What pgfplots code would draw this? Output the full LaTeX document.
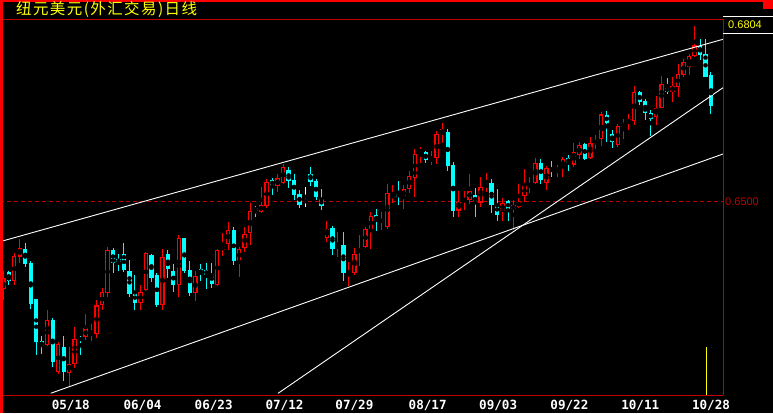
\documentclass[border=0pt]{standalone}
\usepackage{fontspec}
\usepackage{pgfplots}
\usepackage{pgfplotstable}
\pgfplotsset{compat=1.18}
\usetikzlibrary{calc,backgrounds}
\setmainfont{Liberation Sans}
\newfontfamily\cjk{Noto Sans CJK SC}
\newfontfamily\dmono{DejaVu Sans Mono}
\definecolor{upred}{RGB}{255,0,0}
\definecolor{dncyan}{RGB}{0,255,255}
\definecolor{frame}{RGB}{190,0,0}
\definecolor{yel}{RGB}{255,255,0}

\pgfplotstableread{
j O H L C
1 0.6347 0.6378 0.6328 0.6366
3 0.6362 0.6410 0.6354 0.6405
4 0.6404 0.6435 0.6392 0.6418
9 0.6250 0.6311 0.6248 0.6294
11 0.6204 0.6256 0.6200 0.6252
13 0.6202 0.6246 0.6178 0.6217
14 0.6217 0.6281 0.6211 0.6260
16 0.6264 0.6304 0.6258 0.6279
17 0.6268 0.6287 0.6258 0.6271
18 0.6270 0.6328 0.6263 0.6319
19 0.6319 0.6349 0.6311 0.6342
20 0.6340 0.6420 0.6334 0.6415
26 0.6323 0.6354 0.6311 0.6343
27 0.6345 0.6412 0.6344 0.6410
30 0.6320 0.6417 0.6311 0.6403
33 0.6354 0.6441 0.6334 0.6436
36 0.6340 0.6379 0.6327 0.6370
40 0.6354 0.6417 0.6352 0.6415
41 0.6416 0.6445 0.6405 0.6422
42 0.6425 0.6464 0.6416 0.6450
44 0.6395 0.6420 0.6369 0.6418
45 0.6418 0.6456 0.6412 0.6444
46 0.6445 0.6497 0.6424 0.6483
48 0.6482 0.6525 0.6480 0.6494
49 0.6492 0.6539 0.6488 0.6533
51 0.6527 0.6548 0.6516 0.6540
52 0.6532 0.6564 0.6530 0.6559
60 0.6436 0.6466 0.6430 0.6452
62 0.6419 0.6447 0.6404 0.6424
64 0.6375 0.6394 0.6352 0.6378
65 0.6375 0.6418 0.6372 0.6408
66 0.6412 0.6441 0.6388 0.6418
67 0.6421 0.6456 0.6419 0.6452
68 0.6450 0.6481 0.6418 0.6475
70 0.6465 0.6481 0.6451 0.6467
71 0.6456 0.6530 0.6451 0.6514
72 0.6505 0.6528 0.6497 0.6513
74 0.6507 0.6528 0.6487 0.6521
75 0.6521 0.6553 0.6515 0.6544
76 0.6541 0.6591 0.6508 0.6583
77 0.6585 0.6595 0.6567 0.6589
79 0.6571 0.6587 0.6563 0.6575
80 0.6575 0.6623 0.6564 0.6618
81 0.6618 0.6636 0.6602 0.6625
84 0.6484 0.6518 0.6472 0.6499
85 0.6500 0.6518 0.6485 0.6505
86 0.6503 0.6548 0.6495 0.6518
88 0.6498 0.6542 0.6490 0.6525
89 0.6525 0.6550 0.6517 0.6530
92 0.6483 0.6505 0.6466 0.6497
94 0.6486 0.6503 0.6450 0.6493
95 0.6491 0.6530 0.6488 0.6499
96 0.6509 0.6557 0.6499 0.6528
97 0.6524 0.6543 0.6514 0.6530
98 0.6531 0.6575 0.6530 0.6566
100 0.6532 0.6562 0.6520 0.6558
102 0.6553 0.6563 0.6543 0.6557
103 0.6559 0.6578 0.6543 0.6573
105 0.6564 0.6601 0.6560 0.6585
106 0.6581 0.6603 0.6573 0.6598
108 0.6575 0.6611 0.6573 0.6601
109 0.6599 0.6615 0.6591 0.6607
110 0.6608 0.6655 0.6597 0.6651
113 0.6598 0.6634 0.6595 0.6631
114 0.6630 0.6643 0.6608 0.6636
115 0.6636 0.6652 0.6624 0.6643
116 0.6639 0.6701 0.6633 0.6690
120 0.6646 0.6683 0.6633 0.6663
121 0.6663 0.6718 0.6662 0.6704
123 0.6691 0.6716 0.6672 0.6701
124 0.6699 0.6738 0.6682 0.6721
125 0.6719 0.6747 0.6717 0.6743
126 0.6734 0.6756 0.6720 0.6753
127 0.6752 0.6804 0.6751 0.6771
}\redt

\pgfplotstableread{
j O H L C
2 0.6377 0.6378 0.6354 0.6362
5 0.6417 0.6428 0.6386 0.6391
6 0.6393 0.6396 0.6312 0.6321
7 0.6330 0.6331 0.6233 0.6256
8 0.6257 0.6266 0.6234 0.6248
10 0.6294 0.6298 0.6212 0.6221
12 0.6247 0.6266 0.6188 0.6204
15 0.6261 0.6266 0.6233 0.6260
21 0.6415 0.6418 0.6376 0.6393
22 0.6399 0.6408 0.6378 0.6394
23 0.6408 0.6428 0.6378 0.6381
24 0.6379 0.6398 0.6334 0.6339
25 0.6341 0.6372 0.6311 0.6324
28 0.6407 0.6409 0.6360 0.6367
29 0.6372 0.6376 0.6317 0.6320
31 0.6408 0.6415 0.6367 0.6382
32 0.6378 0.6391 0.6343 0.6354
34 0.6436 0.6437 0.6375 0.6379
35 0.6381 0.6396 0.6335 0.6341
37 0.6382 0.6391 0.6361 0.6374
38 0.6381 0.6393 0.6348 0.6372
39 0.6374 0.6393 0.6349 0.6357
43 0.6450 0.6456 0.6389 0.6396
47 0.6489 0.6492 0.6473 0.6484
50 0.6537 0.6541 0.6511 0.6527
53 0.6554 0.6559 0.6524 0.6536
54 0.6537 0.6548 0.6502 0.6511
55 0.6512 0.6520 0.6488 0.6494
57 0.6547 0.6559 0.6527 0.6534
58 0.6535 0.6539 0.6502 0.6508
59 0.6504 0.6521 0.6485 0.6492
61 0.6454 0.6457 0.6407 0.6417
63 0.6424 0.6447 0.6361 0.6375
69 0.6477 0.6487 0.6449 0.6465
73 0.6513 0.6536 0.6494 0.6508
78 0.6586 0.6588 0.6567 0.6572
82 0.6621 0.6626 0.6553 0.6561
83 0.6563 0.6569 0.6473 0.6484
87 0.6511 0.6523 0.6473 0.6497
90 0.6532 0.6538 0.6479 0.6494
91 0.6495 0.6521 0.6466 0.6477
93 0.6501 0.6503 0.6466 0.6486
99 0.6567 0.6573 0.6530 0.6537
101 0.6557 0.6570 0.6542 0.6552
104 0.6575 0.6581 0.6553 0.6567
107 0.6600 0.6601 0.6572 0.6574
111 0.6650 0.6657 0.6604 0.6637
112 0.6618 0.6624 0.6592 0.6604
117 0.6691 0.6692 0.6668 0.6672
118 0.6675 0.6678 0.6641 0.6653
119 0.6653 0.6658 0.6614 0.6643
122 0.6697 0.6714 0.6687 0.6691
128 0.6771 0.6783 0.6746 0.6754
129 0.6756 0.6783 0.6717 0.6717
130 0.6720 0.6724 0.6652 0.6666
}\cyant

\pgfplotstableread{
j O H L C
56 0.6500 0.6525 0.6491 0.6500
}\whitet

\pgfplotsset{
  wick/.style={only marks, mark=none, forget plot,
    error bars/.cd, y dir=both, y explicit, error mark=none,
    error bar style={draw=#1, line width=1pt}},
  body/.style n args={2}{only marks, mark=none, forget plot,
    error bars/.cd, y dir=both, y explicit, error mark=none,
    error bar style={draw=#1, line width=#2}},
}

\begin{document}
\begin{tikzpicture}[x=1pt,y=1pt]
\begin{axis}[
  name=ax, at={(0,0)}, anchor=south west,
  scale only axis, width=723pt, height=375.8pt,
  xmin=0.398, xmax=132.19, ymin=0.616263, ymax=0.681615,
  axis line style={draw=none},
  major tick length=0pt,
  xtick={13.3,26.37,39.35,52.26,65.0,78.36,91.2,104.2,117.1,130.0},
  xticklabels={05/18,06/04,06/23,07/12,07/29,08/17,09/03,09/22,10/11,10/28},
  xticklabel style={font=\dmono\bfseries\fontsize{12.6}{13}\selectfont, text=white, anchor=base, inner sep=0pt, yshift=-14.3pt},
  ytick={0.65}, yticklabels={0.6500}, yticklabel pos=right,
  yticklabel style={font=\fontsize{11}{12}\selectfont, text=frame, anchor=west, inner sep=0pt, xshift=2pt},
  clip=true,
]
% dashed 0.6500 level
\addplot[frame, dash pattern=on 4pt off 3pt, line width=0.8pt, forget plot] coordinates {(0.398,0.65) (132.19,0.65)};
% red (rising) candles
\addplot[wick=upred] table[x=j, y expr={(\thisrow{H}+\thisrow{L})/2}, y error expr={(\thisrow{H}-\thisrow{L})/2}] {\redt};
\addplot[body={upred}{4.4pt}] table[x=j, y expr={(\thisrow{O}+\thisrow{C})/2}, y error expr={max(abs(\thisrow{C}-\thisrow{O})/2,0.00009)}] {\redt};
\addplot[body={black}{2.1pt}] table[x=j, y expr={(\thisrow{O}+\thisrow{C})/2}, y error expr={max(abs(\thisrow{C}-\thisrow{O})/2-0.000185,0)}] {\redt};
% cyan (falling) candles
\addplot[wick=dncyan] table[x=j, y expr={(\thisrow{H}+\thisrow{L})/2}, y error expr={(\thisrow{H}-\thisrow{L})/2}] {\cyant};
\addplot[body={dncyan}{4.2pt}] table[x=j, y expr={(\thisrow{O}+\thisrow{C})/2}, y error expr={max(abs(\thisrow{C}-\thisrow{O})/2,0.00009)}] {\cyant};
% doji
\addplot[wick=white] table[x=j, y expr={(\thisrow{H}+\thisrow{L})/2}, y error expr={(\thisrow{H}-\thisrow{L})/2}] {\whitet};
\addplot[body={white}{4.2pt}] table[x=j, y expr={(\thisrow{O}+\thisrow{C})/2}, y error expr={max(abs(\thisrow{C}-\thisrow{O})/2,0.00009)}] {\whitet};
% trend lines
\addplot[white, line width=0.9pt, forget plot] coordinates {(0.398,0.642974) (132.19,0.678172)};
\addplot[white, line width=0.9pt, forget plot] coordinates {(9.64,0.616611) (132.19,0.658225)};
\addplot[white, line width=0.9pt, forget plot] coordinates {(51.09,0.616611) (132.19,0.669755)};
% yellow marker bar
\addplot[yel, line width=1pt, forget plot] coordinates {(129.27,0.616263) (129.27,0.624663)};
\end{axis}
\coordinate (O) at ($(ax.south west)+(0,-17.7)$);
\begin{scope}[shift={(O)}]
% frame
\draw[frame, line width=0.8pt] (0,393.5) -- (723,393.5);
\draw[frame, line width=0.8pt] (0,17.7) -- (723,17.7);
\draw[frame, line width=0.8pt] (723,17.7) -- (723,393.5);
\draw[white, line width=0.8pt] (723,396.3) -- (773,396.3);
\draw[white, line width=0.8pt] (723,379.7) -- (773,379.7);
\fill[upred] (0,411.3) rectangle (763,413);
\fill[upred] (763,404) rectangle (773,413);
\fill[upred] (0,0) rectangle (2.7,413);
% texts
\node[anchor=west, inner sep=0pt, text=yel, font=\cjk\fontsize{15.5}{16}\selectfont] at (16,404) {纽\kern1.4pt 元\kern1.4pt 美\kern1.4pt 元\kern1.4pt(\kern1.4pt 外\kern1.4pt 汇\kern1.4pt 交\kern1.4pt 易\kern1.4pt)\kern1.4pt 日\kern1.4pt 线};
\node[anchor=west, inner sep=0pt, text=yel, font=\fontsize{11}{12}\selectfont] at (728,388) {0.6804};
\begin{scope}[on background layer]
\fill[black] (0,0) rectangle (773,413);
\end{scope}
\end{scope}
\pgfresetboundingbox
\path[use as bounding box] (O) rectangle ($(O)+(773,413)$);
\end{tikzpicture}
\end{document}
